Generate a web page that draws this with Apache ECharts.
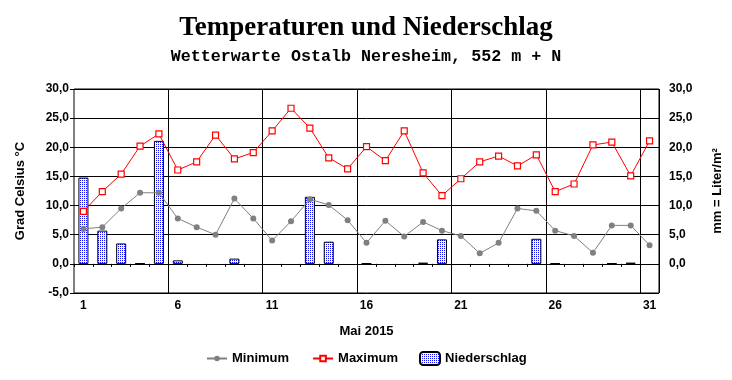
<!DOCTYPE html>
<html>
<head>
<meta charset="utf-8">
<script src="https://cdn.jsdelivr.net/npm/echarts@6/dist/echarts.min.js"></script>
<style>html,body{margin:0;padding:0;background:#fff;}#c{width:732px;height:380px;}</style>
</head>
<body>
<div id="c"></div>
<script>
var days = ['1','2','3','4','5','6','7','8','9','10','11','12','13','14','15','16','17','18','19','20','21','22','23','24','25','26','27','28','29','30','31'];
var tempMin = [6.0, 6.3, 9.5, 12.2, 12.2, 7.8, 6.3, 5.0, 11.2, 7.8, 4.0, 7.3, 11.1, 10.1, 7.5, 3.6, 7.4, 4.7, 7.2, 5.7, 4.8, 1.8, 3.6, 9.5, 9.1, 5.7, 4.8, 1.9, 6.6, 6.6, 3.2];
var tempMax = [9.0, 12.4, 15.4, 20.2, 22.3, 16.1, 17.5, 22.1, 18.0, 19.1, 22.8, 26.7, 23.3, 18.2, 16.3, 20.1, 17.7, 22.8, 15.6, 11.7, 14.6, 17.5, 18.5, 16.8, 18.7, 12.4, 13.7, 20.4, 20.9, 15.1, 21.1];
var rain = [14.8, 5.7, 3.5, 0.1, 21.1, 0.6, null, null, 0.9, null, null, null, 11.5, 3.8, null, 0.1, null, null, 0.2, 4.2, null, null, null, null, 4.3, 0.1, null, null, 0.1, 0.2, null];

var pat = document.createElement('canvas');
pat.width = 2; pat.height = 2;
var pc = pat.getContext('2d');
pc.fillStyle = '#ffffff'; pc.fillRect(0,0,2,2);
pc.fillStyle = '#1010ff'; pc.fillRect(0,0,1,1);

function fmt(v){ return v.toFixed(1).replace('.', ','); }
var lblFont = {fontFamily:'Liberation Sans, Arial, sans-serif', fontWeight:'bold', fontSize:12, color:'#000'};

var chart = echarts.init(document.getElementById('c'), null, {renderer:'canvas'});
chart.setOption({
  animation:false,
  backgroundColor:'#fff',
  title:{
    left:'center', top:15, padding:0, itemGap:6,
    text:'Temperaturen und Niederschlag',
    textStyle:{fontFamily:'Liberation Serif, Times New Roman, serif', fontWeight:'bold', fontSize:27, color:'#000'},
    subtext:'Wetterwarte Ostalb Neresheim, 552 m + N',
    subtextStyle:{fontFamily:'Liberation Mono, Courier New, monospace', fontWeight:'bold', fontSize:16.7, color:'#000'}
  },
  legend:[
    {data:['Minimum','Maximum'], left:206, top:352, padding:0, itemWidth:20, itemHeight:7, itemGap:23,
     textStyle:{fontFamily:'Liberation Sans, Arial, sans-serif', fontWeight:'bold', fontSize:13, color:'#000'}},
    {data:['Niederschlag'], left:419, top:351, padding:0, itemWidth:20, itemHeight:13,
     textStyle:{fontFamily:'Liberation Sans, Arial, sans-serif', fontWeight:'bold', fontSize:13, color:'#000'}}
  ],
  grid:{left:74, right:73, top:89, bottom:87, show:true, borderColor:'#000', borderWidth:1, backgroundColor:'transparent'},
  xAxis:[
    {type:'category', data:days, boundaryGap:true, position:'bottom',
     axisLine:{show:false, onZero:false}, axisTick:{show:false},
     axisLabel:Object.assign({interval:function(i){return i%5===0;}, margin:7}, lblFont),
     splitLine:{show:true, interval:function(i){return i>0 && i%5===0;}, lineStyle:{color:'#000', width:1}},
     name:'Mai 2015', nameLocation:'middle', nameGap:32,
     nameTextStyle:{fontFamily:'Liberation Sans, Arial, sans-serif', fontWeight:'bold', fontSize:13, color:'#000'}},
    {type:'category', data:days, boundaryGap:true, position:'top',
     axisLine:{show:true, onZero:true, lineStyle:{color:'#000', width:1}},
     axisTick:{show:true, inside:true, length:3, interval:0, lineStyle:{color:'#000'}},
     axisLabel:{show:false}, splitLine:{show:false}}
  ],
  yAxis:[
    {type:'value', min:-5, max:30, interval:5, position:'left',
     axisLine:{show:false}, axisTick:{show:true, length:4, lineStyle:{color:'#000'}},
     axisLabel:Object.assign({formatter:fmt, margin:5}, lblFont),
     splitLine:{show:true, lineStyle:{color:'#000', width:1}},
     name:'Grad Celsius °C', nameLocation:'middle', nameGap:47, nameRotate:90,
     nameTextStyle:{fontFamily:'Liberation Sans, Arial, sans-serif', fontWeight:'bold', fontSize:13, color:'#000'}},
    {type:'value', min:-5, max:30, interval:5, position:'right',
     axisLine:{show:false}, axisTick:{show:false},
     axisLabel:Object.assign({formatter:function(v){return v<0?'':fmt(v);}, margin:10}, lblFont),
     splitLine:{show:false},
     name:'mm = Liter/m²', nameLocation:'middle', nameGap:52, nameRotate:90,
     nameTextStyle:{fontFamily:'Liberation Sans, Arial, sans-serif', fontWeight:'bold', fontSize:13, color:'#000'}}
  ],
  series:[
    {name:'Niederschlag', type:'bar', xAxisIndex:0, yAxisIndex:1, data:rain, barWidth:10,
     itemStyle:{color:{image:pat, repeat:'repeat'}, borderColor:'#000', borderWidth:1}},
    {name:'Minimum', type:'line', xAxisIndex:0, yAxisIndex:0, data:tempMin, symbol:'circle', symbolSize:6,
     lineStyle:{color:'#808080', width:1}, itemStyle:{color:'#808080'}},
    {name:'Maximum', type:'line', xAxisIndex:0, yAxisIndex:0, data:tempMax, symbol:'rect', symbolSize:6,
     lineStyle:{color:'#ff0000', width:1}, itemStyle:{color:'#ffffff', borderColor:'#ff0000', borderWidth:1.2}}
  ]
});
</script>
</body>
</html>
